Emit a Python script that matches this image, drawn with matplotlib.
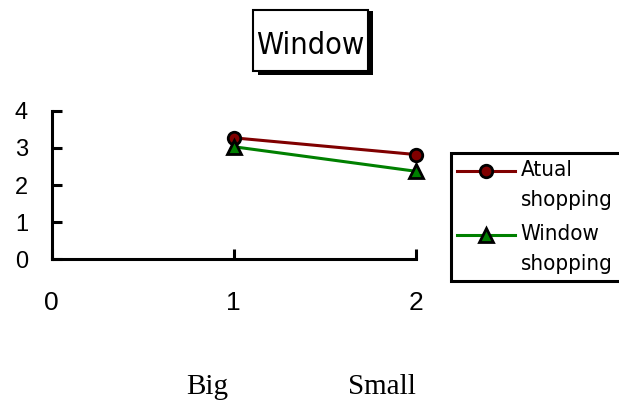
import numpy as np
import matplotlib
matplotlib.use("Agg")
import matplotlib.pyplot as plt
from matplotlib import font_manager
from matplotlib.legend_handler import HandlerLine2D
from matplotlib.patches import Rectangle

# data
x_pos = [1, 2]
atual = [3.27, 2.82]
window = [3.03, 2.37]
series_labels = ["Atual\nshopping", "Window\nshopping"]
x_ticks = [0, 1, 2]
y_ticks = [0, 1, 2, 3, 4]
groups = ["Big", "Small"]
title = "Window"

# narrow face for title / legend (condensed DejaVu if it is installed)
condensed = {f.name for f in font_manager.fontManager.ttflist
             if f.stretch in ("condensed", "semi-condensed", 87.5, 75)}
stretch = "condensed" if "DejaVu Sans" in condensed else "normal"
narrow = ["DejaVu Sans"]


class TopHandler(HandlerLine2D):
    # put the legend sample next to the first line of a two-line label
    def __init__(self, shift, **kw):
        super().__init__(**kw)
        self.shift = shift

    def create_artists(self, legend, orig_handle, xdescent, ydescent,
                       width, height, fontsize, trans):
        arts = super().create_artists(legend, orig_handle, xdescent, ydescent,
                                      width, height, fontsize, trans)
        for a in arts:
            a.set_ydata(np.asarray(a.get_ydata()) + self.shift)
        return arts


W, H = 619, 403
fig = plt.figure(figsize=(W / 100, H / 100), dpi=100)

# plot area
ax = fig.add_axes([51.7 / W, 1 - 259.3 / H, (415.7 - 51.7) / W, (259.3 - 110.7) / H])
l1, = ax.plot(x_pos, atual, color="#800000", lw=2.2, marker="o", ms=9,
              mfc="#800000", mec="black", mew=2, clip_on=False, zorder=3,
              label=series_labels[0])
l2, = ax.plot(x_pos, window, color="#008000", lw=2.2, marker="^", ms=10,
              mfc="#008000", mec="black", mew=2, clip_on=False, zorder=3,
              label=series_labels[1])

ax.set_xlim(0, 2)
ax.set_ylim(0, 4)
ax.set_xticks(x_ticks)
ax.set_yticks(y_ticks)
for s in ["top", "right"]:
    ax.spines[s].set_visible(False)
for s in ["left", "bottom"]:
    ax.spines[s].set_linewidth(2.2)
ax.tick_params(direction="in", length=7, width=2.2)
ax.tick_params(axis="y", pad=17, labelsize=17)
ax.tick_params(axis="x", pad=23, labelsize=19)
for lab in ax.get_xticklabels() + ax.get_yticklabels():
    lab.set_fontfamily("Liberation Sans")

# legend, running off the right edge like the reference
hm = {l1: TopHandler(10.5), l2: TopHandler(10.5)}
leg = fig.legend(handles=[l1, l2], handler_map=hm, loc="upper left",
                 bbox_to_anchor=(450.7 / W, 1 - 280 / H, 190 / W, 126.7 / H),
                 mode="expand",
                 prop={"family": narrow, "size": 16, "stretch": stretch},
                 handlelength=2.6, handletextpad=0.25, borderpad=0.3,
                 labelspacing=0.6, fancybox=False, edgecolor="black",
                 framealpha=1, borderaxespad=0)
leg.get_frame().set_linewidth(2.2)
for t in leg.get_texts():
    t.set_linespacing(1.65)

# title box with shadow
fig.patches.append(Rectangle((258 / W, 1 - 75 / H), 115 / W, 64 / H,
                             transform=fig.transFigure, facecolor="black",
                             edgecolor="none"))
fig.patches.append(Rectangle((253 / W, 1 - 71 / H), 115 / W, 61 / H,
                             transform=fig.transFigure, facecolor="white",
                             edgecolor="black", lw=1.5))
fig.text(310.5 / W, 1 - 54 / H, title, ha="center", va="baseline",
         fontsize=22, family=narrow, fontstretch=stretch)

# group names under the axis
for name, gx in zip(groups, [207, 382]):
    fig.text(gx / W, 1 - 394 / H, name, ha="center", va="baseline",
             fontsize=21, family="Liberation Serif")

fig.savefig("out.png", dpi=100)
